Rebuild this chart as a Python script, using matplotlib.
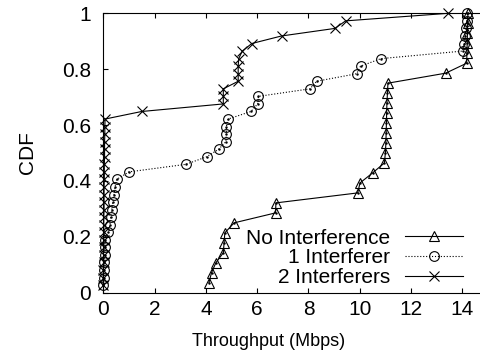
import numpy as np
import matplotlib
matplotlib.use("Agg")
import matplotlib.pyplot as plt

plt.rcParams['font.family'] = ['Liberation Sans', 'DejaVu Sans']

# throughput samples (Mbps)
no_interf = [4.12, 4.22, 4.39, 4.68, 4.71, 4.74, 5.1, 6.72, 6.73, 9.92,
             10.01, 10.5, 10.96, 11.0, 11.02, 11.03, 11.04, 11.05, 11.06, 11.08,
             11.1, 13.35, 14.17, 14.18, 14.19, 14.2, 14.21, 14.22]
one_interf = [0.0, 0.02, 0.03, 0.04, 0.05, 0.06, 0.07,
              0.2, 0.26, 0.29, 0.33, 0.37, 0.42, 0.46, 0.52,
              1.0, 3.22, 4.03, 4.5, 4.78, 4.8, 4.8, 4.87, 5.76, 6.02, 6.05,
              8.06, 8.32, 9.88, 10.03, 10.83, 14.01, 14.08, 14.12, 14.15, 14.18, 14.2]
two_interf = [0.0, 0.0, 0.0, 0.01, 0.01, 0.01, 0.02, 0.02, 0.02, 0.02,
              0.03, 0.03, 0.03, 0.03, 0.04, 0.04, 0.04, 0.05, 0.05, 0.05,
              0.06, 0.06, 0.07,
              1.5, 4.68, 4.68, 4.68, 5.26, 5.26, 5.26, 5.28, 5.42, 5.79, 6.95,
              9.03, 9.45, 13.45]

labels = ['No Interference', '1 Interferer', '2 Interferers']
xticks = [0, 2, 4, 6, 8, 10, 12, 14]
yticks = [0, 0.2, 0.4, 0.6, 0.8, 1]
ytick_labels = ['0', '0.2', '0.4', '0.6', '0.8', '1']


def cdf(samples):
    x = np.sort(np.array(samples))
    y = np.arange(1, len(x) + 1) / len(x)
    return x, y


fig = plt.figure(figsize=(4.8, 3.58), dpi=100)
ax = fig.add_axes([0.2152, 0.1824, 0.7848, 0.7804])

styles = [('^', '-'), ('o', ':'), ('x', '-')]
for data, lab, (mk, ls) in zip([no_interf, one_interf, two_interf], labels, styles):
    x, y = cdf(data)
    ax.plot(x, y, color='black', linestyle=ls, linewidth=0.8, marker=mk,
            markersize=7, markerfacecolor='none', markeredgewidth=0.8,
            label=lab, clip_on=False)
    if mk != 'x':
        ax.plot(x, y, linestyle='none', marker='.', markersize=1.5,
                color='black', clip_on=False)

ax.set_xlim(0, 14.69)
ax.set_ylim(0, 1)
ax.set_xticks(xticks)
ax.set_yticks(yticks)
ax.set_yticklabels(ytick_labels)
ax.tick_params(direction='in', length=3.5, width=0.8, labelsize=15,
               top=True, right=False)
ax.tick_params(axis='x', pad=5)
ax.tick_params(axis='y', pad=9)
ax.spines['right'].set_visible(False)
for s in ['left', 'bottom', 'top']:
    ax.spines[s].set_linewidth(0.8)

ax.set_ylabel('CDF', fontsize=15)
ax.yaxis.set_label_coords(-0.175, 0.5)
fig.text(269 / 480, 1 - 341 / 358, 'Throughput (Mbps)', fontsize=13,
         ha='center', va='center')

ax.legend(loc='lower right', bbox_to_anchor=(463 / 480, 1 - 287 / 358),
          bbox_transform=fig.transFigure, frameon=False, markerfirst=False,
          fontsize=15, handlelength=2.8, handletextpad=0.7, labelspacing=0.03,
          borderpad=0, borderaxespad=0)

fig.savefig('out.png', dpi=100)
